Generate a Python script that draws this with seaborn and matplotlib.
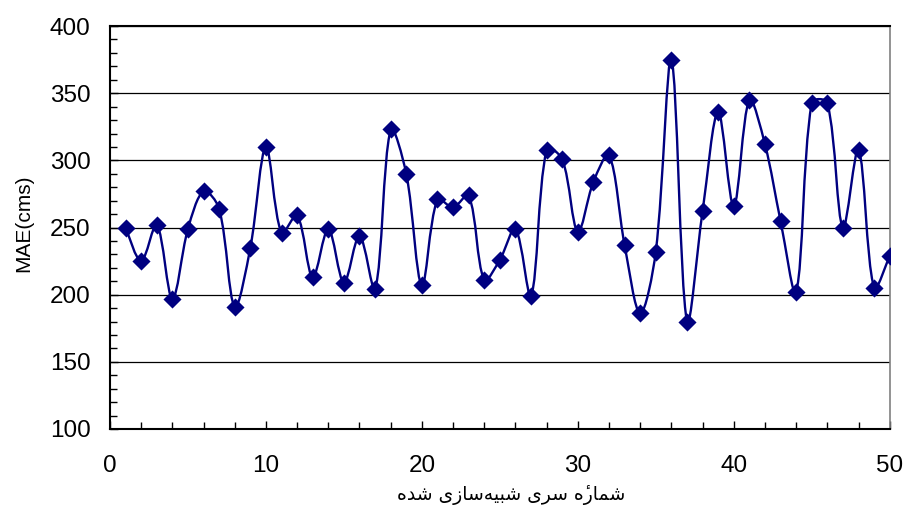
import numpy as np
import pandas as pd
import matplotlib
matplotlib.use("Agg")
import matplotlib.pyplot as plt
from matplotlib.path import Path
from matplotlib.patches import PathPatch
from matplotlib.ticker import MultipleLocator
import seaborn as sns

# dati
serie = list(range(1, 51))
mae = [250, 225, 252, 197, 249, 277, 264, 191, 235, 310,
       246, 259, 213, 249, 209, 244, 204, 323, 290, 207,
       271, 265, 274, 211, 226, 249, 199, 308, 301, 247,
       284, 304, 237, 186, 232, 375, 180, 262, 336, 266,
       345, 312, 255, 202, 343, 343, 250, 308, 205, 229]

x_label = "شمارهٔ سری شبیه‌سازی شده"
y_label = "MAE(cms)"

dati = pd.DataFrame({"serie": serie, "mae": mae})

# forme di presentazione araba (isol, fina, init, medi)
FORME = {
    "ا": ("\uFE8D", "\uFE8E", None, None),
    "ب": ("\uFE8F", "\uFE90", "\uFE91", "\uFE92"),
    "د": ("\uFEA9", "\uFEAA", None, None),
    "ر": ("\uFEAD", "\uFEAE", None, None),
    "ز": ("\uFEAF", "\uFEB0", None, None),
    "س": ("\uFEB1", "\uFEB2", "\uFEB3", "\uFEB4"),
    "ش": ("\uFEB5", "\uFEB6", "\uFEB7", "\uFEB8"),
    "م": ("\uFEE1", "\uFEE2", "\uFEE3", "\uFEE4"),
    "ه": ("\uFEE9", "\uFEEA", "\uFEEB", "\uFEEC"),
    "ی": ("\uFBFC", "\uFBFD", "\uFBFE", "\uFBFF"),
}
SEGNI = "\u0654"  # hamza sopra (segno combinante)


def shape_rtl(testo):
    gruppi = []
    for c in testo:
        if c in SEGNI and gruppi:
            gruppi[-1][1].append(c)
        else:
            gruppi.append([c, []])
    out = []
    for i, (c, segni) in enumerate(gruppi):
        if c not in FORME:
            out.append(c + "".join(segni))
            continue
        prev = gruppi[i - 1][0] if i > 0 else ""
        nxt = gruppi[i + 1][0] if i + 1 < len(gruppi) else ""
        jp = prev in FORME and FORME[prev][2] is not None
        jn = FORME[c][2] is not None and nxt in FORME
        isol, fina, init, medi = FORME[c]
        if jp and jn:
            g = medi
        elif jp:
            g = fina
        elif jn:
            g = init
        else:
            g = isol
        out.append(g + "".join(segni))
    # ordine visivo: gruppi invertiti, segno dopo la sua lettera
    return "".join(g for g in out[::-1] if g != "\u200c")


sns.set_style("ticks")
plt.rcParams["font.family"] = ["Liberation Sans", "DejaVu Sans"]
plt.rcParams["text.color"] = "black"
plt.rcParams["axes.labelcolor"] = "black"
plt.rcParams["xtick.color"] = "black"
plt.rcParams["ytick.color"] = "black"

fig, ax = plt.subplots(figsize=(9.06, 5.11), dpi=100)
fig.subplots_adjust(left=0.1214, right=0.982, top=0.949, bottom=0.1605)
ax.set_xlim(0, 50)
ax.set_ylim(100, 400)

# linea smussata tipo Excel (Bezier, tangenti pesate sulla lunghezza a schermo)
xs = dati["serie"].to_numpy(dtype=float)
ys = dati["mae"].to_numpy(dtype=float)
pts = np.column_stack([xs, ys])
scr = ax.transData.transform(pts)
n = len(pts)
seg = np.hypot(*(np.diff(scr, axis=0).T))  # lunghezze segmenti in pixel
verts = [pts[0]]
codes = [Path.MOVETO]
for i in range(n - 1):
    p0 = pts[max(i - 1, 0)]
    p1 = pts[i]
    p2 = pts[i + 1]
    p3 = pts[min(i + 2, n - 1)]
    d_prev = seg[i - 1] if i > 0 else seg[i]
    d_cur = seg[i]
    d_next = seg[i + 1] if i + 2 < n else seg[i]
    f1 = d_cur / (d_prev + d_cur) / 3
    f2 = d_cur / (d_cur + d_next) / 3
    verts += [p1 + (p2 - p0) * f1, p2 - (p3 - p1) * f2, p2]
    codes += [Path.CURVE4] * 3
ax.add_patch(PathPatch(Path(verts, codes), fill=False, edgecolor="#000080", lw=1.7, zorder=3))

sns.scatterplot(data=dati, x="serie", y="mae", marker="D", s=85, color="#000080",
                edgecolor="#000080", linewidth=0, zorder=4, ax=ax)

ax.xaxis.set_major_locator(MultipleLocator(10))
ax.xaxis.set_minor_locator(MultipleLocator(2))
ax.yaxis.set_major_locator(MultipleLocator(50))
ax.yaxis.set_minor_locator(MultipleLocator(10))
ax.tick_params(which="both", direction="in", labelsize=17.5, color="black",
               labelcolor="black", width=1)
ax.tick_params(which="major", length=6)
ax.tick_params(which="minor", length=5)
ax.tick_params(axis="x", which="major", pad=19)
ax.tick_params(axis="y", which="major", pad=14)
ax.grid(axis="y", which="major", color="black", lw=0.9)
ax.set_axisbelow(True)

for lato in ["left", "bottom", "top"]:
    ax.spines[lato].set_color("black")
    ax.spines[lato].set_linewidth(1.5)
ax.spines["right"].set_color("#808080")
ax.spines["right"].set_linewidth(1.2)

ax.set_xlabel(shape_rtl(x_label), fontsize=13.5, family=["DejaVu Sans"])
ax.set_ylabel(y_label, fontsize=15)
ax.xaxis.set_label_coords(0.515, -0.14)
ax.yaxis.set_label_coords(-0.099, 0.51)

plt.savefig("out.png", dpi=100)
